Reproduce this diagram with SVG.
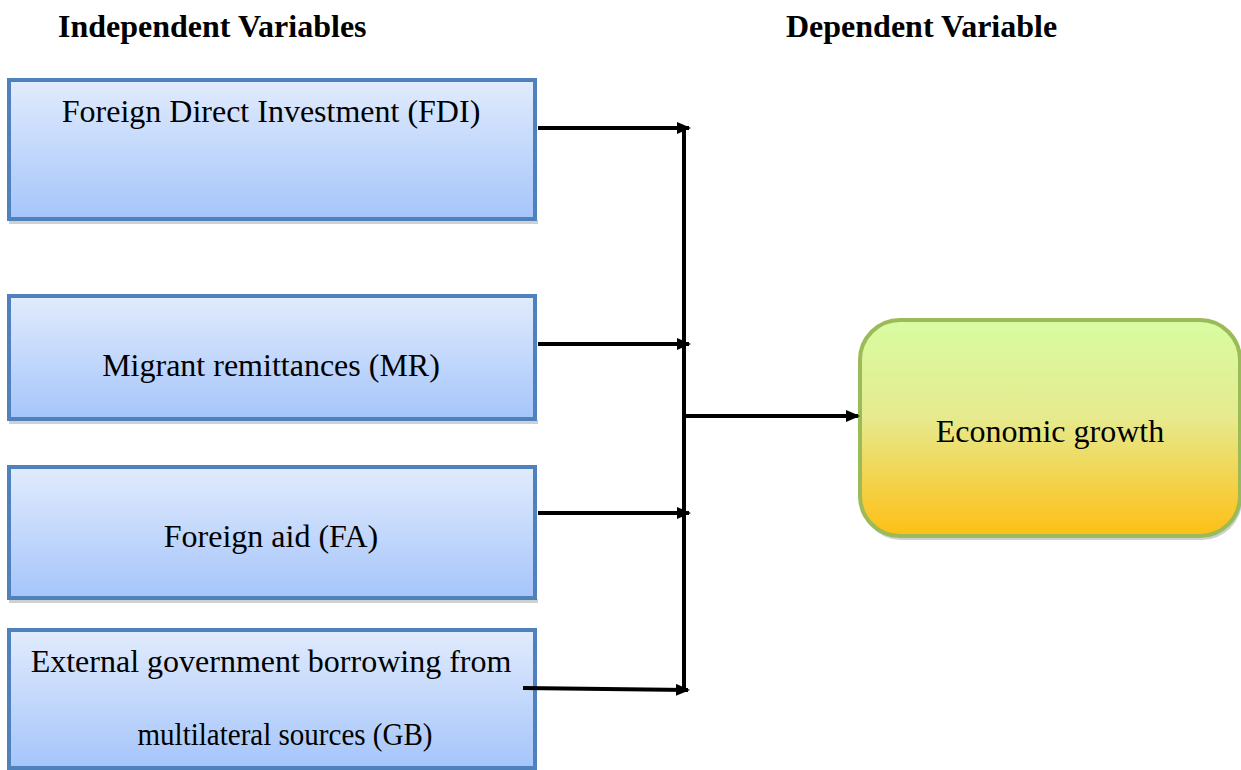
<svg xmlns="http://www.w3.org/2000/svg" width="1241" height="770" viewBox="0 0 1241 770">
<defs>
<linearGradient id="blue" x1="0" y1="0" x2="0" y2="1">
<stop offset="0" stop-color="#E1EBFD"/>
<stop offset="1" stop-color="#A5C5FA"/>
</linearGradient>
<linearGradient id="green" x1="0" y1="0" x2="0" y2="1">
<stop offset="0" stop-color="#D8FCA2"/>
<stop offset="0.45" stop-color="#E6EA8E"/>
<stop offset="1" stop-color="#FEBF14"/>
</linearGradient>
<marker id="arr" markerWidth="14" markerHeight="12" refX="12" refY="6" orient="auto" markerUnits="userSpaceOnUse">
<path d="M0,0 L14,6 L0,12 z" fill="#000"/>
</marker>
<style>
.box{fill:url(#blue);stroke:#4F81BD;stroke-width:4}
.sh{fill:#D0D0D0}
.t{font-family:"Liberation Serif","Times New Roman",serif;font-size:32px;fill:#000;text-anchor:middle}
.h{font-family:"Liberation Serif","Times New Roman",serif;font-size:32px;font-weight:bold;fill:#000}
.c{stroke:#000;stroke-width:4;fill:none}
</style>
</defs>
<rect width="1241" height="770" fill="#fff"/>
<text class="h" x="58" y="37">Independent Variables</text>
<text class="h" x="786" y="37">Dependent Variable</text>
<g id="fdi">
<rect class="sh" x="9" y="220" width="529" height="4"/>
<rect class="box" x="9" y="80" width="526" height="139"/>
<text class="t" x="271" y="122">Foreign Direct Investment (FDI)</text>
</g>
<g id="mr">
<rect class="sh" x="9" y="420" width="529" height="4"/>
<rect class="box" x="9" y="296" width="526" height="123"/>
<text class="t" x="271" y="376">Migrant remittances (MR)</text>
</g>
<g id="fa">
<rect class="sh" x="9" y="599" width="529" height="4"/>
<rect class="box" x="9" y="467" width="526" height="131"/>
<text class="t" x="271" y="547">Foreign aid (FA)</text>
</g>
<g id="gb">
<rect class="box" x="9" y="630" width="526" height="138"/>
<text class="t" x="271" y="672">External government borrowing from</text>
<text class="t" x="285" y="745" textLength="295" lengthAdjust="spacingAndGlyphs">multilateral sources (GB)</text>
</g>
<g id="eg">
<rect x="861" y="324" width="381" height="216" rx="40" fill="#D0D0D0"/>
<rect x="860" y="320" width="380" height="216" rx="40" fill="url(#green)" stroke="#9BBB59" stroke-width="4"/>
<text class="t" x="1050" y="442">Economic growth</text>
</g>
<g id="connectors">
<line class="c" x1="684" y1="127" x2="684" y2="692"/>
<line class="c" x1="538" y1="128" x2="689" y2="128" marker-end="url(#arr)"/>
<line class="c" x1="538" y1="344" x2="689" y2="344" marker-end="url(#arr)"/>
<line class="c" x1="538" y1="513" x2="689" y2="513" marker-end="url(#arr)"/>
<line class="c" x1="523" y1="688" x2="688" y2="690" marker-end="url(#arr)"/>
<line class="c" x1="684" y1="416" x2="858" y2="416" marker-end="url(#arr)"/>
</g>
</svg>
